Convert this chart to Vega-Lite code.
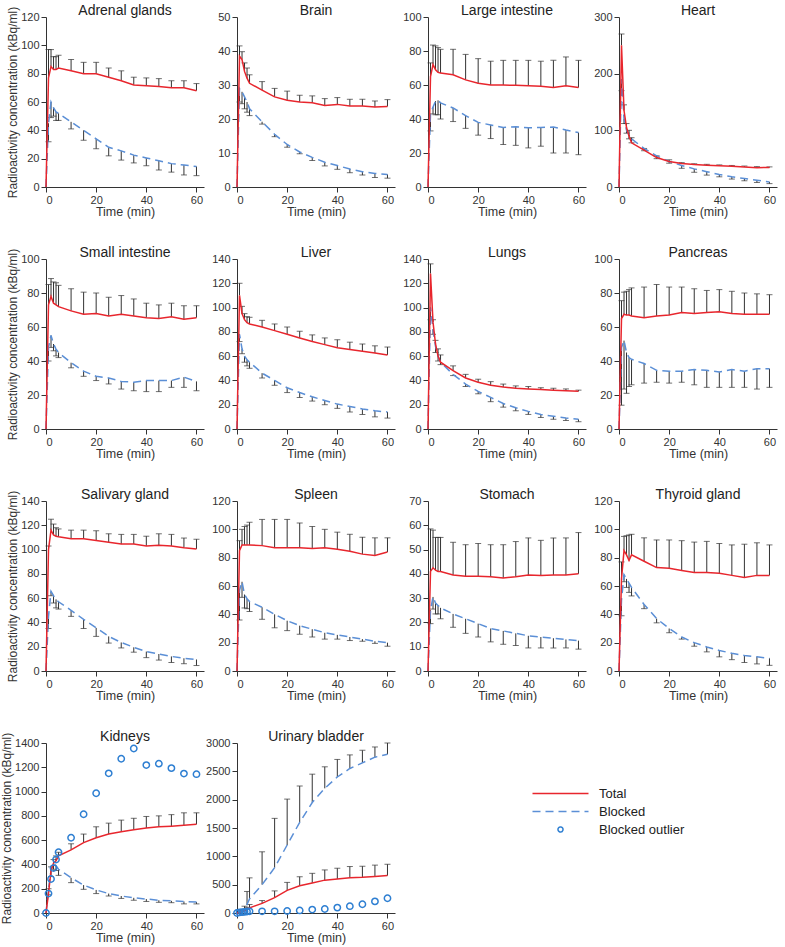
{
"$schema": "https://vega.github.io/schema/vega-lite/v6.json",
"padding": {"left": 0, "top": 4, "right": 2, "bottom": 2},
"data": {"values": [
{"o":"AG","t":0,"T":0,"B":0},
{"o":"AG","t":1,"T":77,"Te":97,"B":45,"Be":32},
{"o":"AG","t":2,"T":85,"Te":97,"B":60,"Be":49},
{"o":"AG","t":3,"T":83,"Te":92,"B":56,"Be":50},
{"o":"AG","t":4,"T":83,"Te":92,"B":53,"Be":47},
{"o":"AG","t":5,"T":84,"Te":93,"B":52,"Be":47},
{"o":"AG","t":10,"T":82,"Te":90,"B":46,"Be":41},
{"o":"AG","t":15,"T":80,"Te":88,"B":40,"Be":33},
{"o":"AG","t":20,"T":80,"Te":88,"B":34,"Be":27},
{"o":"AG","t":25,"T":77.5,"Te":84,"B":28,"Be":22},
{"o":"AG","t":30,"T":75,"Te":82,"B":25.5,"Be":19},
{"o":"AG","t":35,"T":72,"Te":77.5,"B":22.5,"Be":17},
{"o":"AG","t":40,"T":71.5,"Te":77,"B":20.5,"Be":15},
{"o":"AG","t":45,"T":71,"Te":76.5,"B":18.5,"Be":12},
{"o":"AG","t":50,"T":70,"Te":75,"B":16.5,"Be":10.5},
{"o":"AG","t":55,"T":70,"Te":75,"B":15.5,"Be":8.5},
{"o":"AG","t":60,"T":68,"Te":73,"B":14.5,"Be":8},
{"o":"BR","t":0,"T":0,"B":0},
{"o":"BR","t":1,"T":38.5,"Te":41.5,"B":29,"Be":25},
{"o":"BR","t":2,"T":37.5,"Te":39.8,"B":28,"Be":24.5},
{"o":"BR","t":3,"T":34,"Te":36.5,"B":26.5,"Be":23},
{"o":"BR","t":4,"T":32,"Te":35,"B":25,"Be":22},
{"o":"BR","t":5,"T":30.5,"Te":33,"B":23,"Be":21},
{"o":"BR","t":10,"T":28.5,"Te":31,"B":19.2,"Be":18.5},
{"o":"BR","t":15,"T":26.5,"Te":29,"B":15.5,"Be":14.8},
{"o":"BR","t":20,"T":25.5,"Te":28.2,"B":12.5,"Be":11.7},
{"o":"BR","t":25,"T":25,"Te":27,"B":10.3,"Be":9.8},
{"o":"BR","t":30,"T":24.8,"Te":26.8,"B":8.7,"Be":7.8},
{"o":"BR","t":35,"T":24,"Te":26,"B":7.3,"Be":6.2},
{"o":"BR","t":40,"T":24.3,"Te":26.3,"B":6.3,"Be":5.2},
{"o":"BR","t":45,"T":23.8,"Te":25.8,"B":5.3,"Be":4.2},
{"o":"BR","t":50,"T":23.8,"Te":25.8,"B":4.5,"Be":3.5},
{"o":"BR","t":55,"T":23.5,"Te":25.3,"B":4,"Be":2.8},
{"o":"BR","t":60,"T":23.7,"Te":25.7,"B":3.7,"Be":2.6},
{"o":"LI","t":0,"T":0,"B":0},
{"o":"LI","t":1,"T":65,"Te":73,"B":43,"Be":33},
{"o":"LI","t":2,"T":72,"Te":83.5,"B":47,"Be":43},
{"o":"LI","t":3,"T":69,"Te":83,"B":50.5,"Be":42.5},
{"o":"LI","t":4,"T":67.5,"Te":82,"B":51,"Be":42.5},
{"o":"LI","t":5,"T":67,"Te":81,"B":49.5,"Be":40},
{"o":"LI","t":10,"T":66,"Te":81,"B":46.5,"Be":38.5},
{"o":"LI","t":15,"T":63,"Te":78,"B":42,"Be":34.5},
{"o":"LI","t":20,"T":61,"Te":75.5,"B":38,"Be":30.5},
{"o":"LI","t":25,"T":60,"Te":74,"B":36.5,"Be":28.5},
{"o":"LI","t":30,"T":60,"Te":74.5,"B":35,"Be":25},
{"o":"LI","t":35,"T":59.8,"Te":74.5,"B":35.5,"Be":24.5},
{"o":"LI","t":40,"T":59.5,"Te":74.5,"B":34.8,"Be":23},
{"o":"LI","t":45,"T":59.3,"Te":74,"B":35,"Be":24},
{"o":"LI","t":50,"T":58.5,"Te":74.5,"B":35.3,"Be":20},
{"o":"LI","t":55,"T":59.5,"Te":76.5,"B":33.5,"Be":20},
{"o":"LI","t":60,"T":58.5,"Te":74.5,"B":32,"Be":19},
{"o":"HE","t":0,"T":0,"B":0},
{"o":"HE","t":1,"T":250,"Te":270,"B":190,"Be":170},
{"o":"HE","t":2,"T":135,"Te":145,"B":120,"Be":112},
{"o":"HE","t":3,"T":105,"Te":112,"B":100,"Be":95},
{"o":"HE","t":4,"T":90,"Te":100,"B":92,"Be":85},
{"o":"HE","t":5,"T":78,"Te":87,"B":85,"Be":78},
{"o":"HE","t":10,"T":65,"Te":68,"B":68,"Be":64},
{"o":"HE","t":15,"T":52,"Te":55,"B":55,"Be":50},
{"o":"HE","t":20,"T":45,"Te":48,"B":45,"Be":42},
{"o":"HE","t":25,"T":41.5,"Te":43,"B":38,"Be":33},
{"o":"HE","t":30,"T":39.5,"Te":41,"B":32,"Be":26},
{"o":"HE","t":35,"T":38.5,"Te":40,"B":27,"Be":21},
{"o":"HE","t":40,"T":37.5,"Te":39,"B":22,"Be":18},
{"o":"HE","t":45,"T":36.5,"Te":38,"B":18,"Be":14},
{"o":"HE","t":50,"T":35.5,"Te":37,"B":15,"Be":11},
{"o":"HE","t":55,"T":34,"Te":36,"B":12,"Be":8},
{"o":"HE","t":60,"T":34.5,"Te":35.5,"B":9,"Be":6},
{"o":"SI","t":0,"T":0,"B":0},
{"o":"SI","t":1,"T":73,"Te":85,"B":48,"Be":40},
{"o":"SI","t":2,"T":78,"Te":88.5,"B":55,"Be":48},
{"o":"SI","t":3,"T":74,"Te":86.5,"B":50,"Be":46},
{"o":"SI","t":4,"T":73,"Te":86,"B":47,"Be":43},
{"o":"SI","t":5,"T":72,"Te":84.5,"B":45,"Be":42},
{"o":"SI","t":10,"T":69.5,"Te":82.5,"B":39,"Be":36},
{"o":"SI","t":15,"T":67.5,"Te":80.5,"B":34,"Be":31},
{"o":"SI","t":20,"T":68,"Te":80,"B":31,"Be":28.5},
{"o":"SI","t":25,"T":66.5,"Te":77.5,"B":30,"Be":26.5},
{"o":"SI","t":30,"T":67.5,"Te":78.5,"B":28,"Be":23.5},
{"o":"SI","t":35,"T":66.5,"Te":76.5,"B":27.5,"Be":22.5},
{"o":"SI","t":40,"T":65.5,"Te":74,"B":28.5,"Be":22},
{"o":"SI","t":45,"T":65,"Te":73,"B":28.5,"Be":22},
{"o":"SI","t":50,"T":66,"Te":74,"B":28.5,"Be":24.5},
{"o":"SI","t":55,"T":64.5,"Te":72.5,"B":30.5,"Be":24.5},
{"o":"SI","t":60,"T":65.5,"Te":72.5,"B":28,"Be":22.5},
{"o":"LV","t":0,"T":0,"B":0},
{"o":"LV","t":1,"T":110,"Te":120,"B":78,"Be":72},
{"o":"LV","t":2,"T":95,"Te":101,"B":66,"Be":62},
{"o":"LV","t":3,"T":90,"Te":95,"B":60,"Be":55},
{"o":"LV","t":4,"T":87.5,"Te":92.5,"B":57,"Be":52},
{"o":"LV","t":5,"T":86.5,"Te":92,"B":55,"Be":50},
{"o":"LV","t":10,"T":84,"Te":89.5,"B":46,"Be":42},
{"o":"LV","t":15,"T":81,"Te":86.5,"B":40,"Be":36},
{"o":"LV","t":20,"T":78,"Te":84,"B":34,"Be":30},
{"o":"LV","t":25,"T":75,"Te":80.5,"B":30,"Be":26},
{"o":"LV","t":30,"T":72,"Te":77.5,"B":26.5,"Be":23},
{"o":"LV","t":35,"T":69.5,"Te":75,"B":23.5,"Be":20},
{"o":"LV","t":40,"T":67,"Te":73.5,"B":20.5,"Be":17},
{"o":"LV","t":45,"T":65.5,"Te":71.5,"B":18.5,"Be":14},
{"o":"LV","t":50,"T":64,"Te":70,"B":16.5,"Be":12},
{"o":"LV","t":55,"T":62.5,"Te":68.5,"B":15,"Be":10},
{"o":"LV","t":60,"T":61,"Te":67.5,"B":14,"Be":9},
{"o":"LU","t":0,"T":0,"B":0},
{"o":"LU","t":1,"T":128,"Te":136,"B":100,"Be":90},
{"o":"LU","t":2,"T":88,"Te":90,"B":82,"Be":78},
{"o":"LU","t":3,"T":70,"Te":73,"B":68,"Be":63},
{"o":"LU","t":4,"T":60,"Te":66,"B":60,"Be":56},
{"o":"LU","t":5,"T":55,"Te":61,"B":55,"Be":53},
{"o":"LU","t":10,"T":48,"Te":52,"B":45,"Be":44},
{"o":"LU","t":15,"T":42,"Te":45,"B":37,"Be":35},
{"o":"LU","t":20,"T":38.5,"Te":41,"B":31,"Be":29},
{"o":"LU","t":25,"T":36,"Te":39,"B":26,"Be":22.5},
{"o":"LU","t":30,"T":34.5,"Te":37,"B":21,"Be":18},
{"o":"LU","t":35,"T":33.5,"Te":35.5,"B":17.5,"Be":15},
{"o":"LU","t":40,"T":33,"Te":35,"B":14.5,"Be":12},
{"o":"LU","t":45,"T":32.5,"Te":34,"B":12,"Be":9.5},
{"o":"LU","t":50,"T":32,"Te":33.5,"B":10.5,"Be":8},
{"o":"LU","t":55,"T":31.5,"Te":33,"B":9,"Be":7},
{"o":"LU","t":60,"T":31,"Te":32,"B":8,"Be":6},
{"o":"PA","t":0,"T":0,"B":0},
{"o":"PA","t":1,"T":65,"Te":75.5,"B":48,"Be":14},
{"o":"PA","t":2,"T":67.5,"Te":80.5,"B":52,"Be":23.5},
{"o":"PA","t":3,"T":67,"Te":81,"B":45,"Be":21},
{"o":"PA","t":4,"T":67,"Te":82,"B":42,"Be":25},
{"o":"PA","t":5,"T":66.5,"Te":83,"B":41,"Be":26},
{"o":"PA","t":10,"T":65.5,"Te":83.5,"B":38.5,"Be":27},
{"o":"PA","t":15,"T":66.5,"Te":85,"B":34.5,"Be":27.5},
{"o":"PA","t":20,"T":67,"Te":83.5,"B":34,"Be":27},
{"o":"PA","t":25,"T":68.5,"Te":83.5,"B":34,"Be":27.5},
{"o":"PA","t":30,"T":68,"Te":82.5,"B":35,"Be":26},
{"o":"PA","t":35,"T":68.5,"Te":81.5,"B":34.5,"Be":24.5},
{"o":"PA","t":40,"T":69,"Te":82,"B":33.5,"Be":24.5},
{"o":"PA","t":45,"T":68,"Te":81,"B":35,"Be":24.5},
{"o":"PA","t":50,"T":67.5,"Te":80,"B":34,"Be":24.5},
{"o":"PA","t":55,"T":67.5,"Te":79.5,"B":35.5,"Be":23.5},
{"o":"PA","t":60,"T":67.5,"Te":79,"B":35.5,"Be":24.5},
{"o":"SG","t":0,"T":0,"B":0},
{"o":"SG","t":1,"T":100,"Te":103,"B":45,"Be":35},
{"o":"SG","t":2,"T":116,"Te":125,"B":65.5,"Be":62},
{"o":"SG","t":3,"T":112,"Te":121,"B":62,"Be":56},
{"o":"SG","t":4,"T":111,"Te":118,"B":59,"Be":52},
{"o":"SG","t":5,"T":110.5,"Te":117,"B":57,"Be":51},
{"o":"SG","t":10,"T":109,"Te":116,"B":50,"Be":45},
{"o":"SG","t":15,"T":109,"Te":116,"B":42.5,"Be":35},
{"o":"SG","t":20,"T":107.5,"Te":115.5,"B":35.5,"Be":28.5},
{"o":"SG","t":25,"T":106,"Te":113,"B":28.5,"Be":23},
{"o":"SG","t":30,"T":104.5,"Te":112.5,"B":23.5,"Be":19},
{"o":"SG","t":35,"T":104.5,"Te":112.5,"B":19.5,"Be":15.5},
{"o":"SG","t":40,"T":103,"Te":111,"B":16,"Be":11},
{"o":"SG","t":45,"T":103.5,"Te":113,"B":14,"Be":9},
{"o":"SG","t":50,"T":103,"Te":112.5,"B":12,"Be":7},
{"o":"SG","t":55,"T":101.5,"Te":109.5,"B":10.5,"Be":6},
{"o":"SG","t":60,"T":100.5,"Te":108.5,"B":9.5,"Be":4.5},
{"o":"SP","t":0,"T":0,"B":0},
{"o":"SP","t":1,"T":85,"Te":92,"B":57,"Be":36},
{"o":"SP","t":2,"T":89,"Te":100,"B":63,"Be":52},
{"o":"SP","t":3,"T":89,"Te":102,"B":54,"Be":44.5},
{"o":"SP","t":4,"T":89,"Te":103,"B":51,"Be":44},
{"o":"SP","t":5,"T":89,"Te":105,"B":49,"Be":42},
{"o":"SP","t":10,"T":88.5,"Te":107,"B":45,"Be":36.5},
{"o":"SP","t":15,"T":87,"Te":107,"B":40,"Be":30.5},
{"o":"SP","t":20,"T":87,"Te":107,"B":35.5,"Be":28.5},
{"o":"SP","t":25,"T":87,"Te":104.5,"B":32,"Be":26},
{"o":"SP","t":30,"T":86.5,"Te":102,"B":29.5,"Be":24},
{"o":"SP","t":35,"T":87,"Te":100,"B":27,"Be":22.5},
{"o":"SP","t":40,"T":86,"Te":98,"B":25.5,"Be":22.5},
{"o":"SP","t":45,"T":84.5,"Te":96.5,"B":24,"Be":21.5},
{"o":"SP","t":50,"T":82.5,"Te":94.5,"B":22.5,"Be":21},
{"o":"SP","t":55,"T":81.5,"Te":94,"B":21,"Be":19.5},
{"o":"SP","t":60,"T":84,"Te":94,"B":20,"Be":17.5},
{"o":"ST","t":0,"T":0,"B":0},
{"o":"ST","t":1,"T":41,"Te":58.5,"B":25,"Be":19.5},
{"o":"ST","t":2,"T":42.5,"Te":58,"B":30.5,"Be":25.5},
{"o":"ST","t":3,"T":41.5,"Te":55,"B":28,"Be":23.5},
{"o":"ST","t":4,"T":41,"Te":55,"B":27,"Be":23.5},
{"o":"ST","t":5,"T":41,"Te":55,"B":26,"Be":21.5},
{"o":"ST","t":10,"T":39.5,"Te":53,"B":23.5,"Be":18},
{"o":"ST","t":15,"T":39,"Te":52,"B":21.5,"Be":15.5},
{"o":"ST","t":20,"T":39,"Te":52.5,"B":19.5,"Be":14},
{"o":"ST","t":25,"T":38.8,"Te":52,"B":17.5,"Be":12},
{"o":"ST","t":30,"T":38.3,"Te":52,"B":16.5,"Be":11},
{"o":"ST","t":35,"T":38.8,"Te":53.3,"B":15.5,"Be":10.5},
{"o":"ST","t":40,"T":39.5,"Te":54.8,"B":14.5,"Be":9.5},
{"o":"ST","t":45,"T":39.3,"Te":53.8,"B":14,"Be":9.5},
{"o":"ST","t":50,"T":39.5,"Te":54.8,"B":13.5,"Be":9.5},
{"o":"ST","t":55,"T":39.5,"Te":54.8,"B":13,"Be":9.5},
{"o":"ST","t":60,"T":40,"Te":57,"B":12.5,"Be":9},
{"o":"TG","t":0,"T":0,"B":0},
{"o":"TG","t":1,"T":65,"Te":77,"B":50,"Be":39},
{"o":"TG","t":2,"T":85,"Te":95,"B":68,"Be":63},
{"o":"TG","t":3,"T":82,"Te":95.5,"B":65,"Be":59},
{"o":"TG","t":4,"T":78,"Te":96,"B":62,"Be":55.5},
{"o":"TG","t":5,"T":82,"Te":96.5,"B":59,"Be":53},
{"o":"TG","t":10,"T":77.5,"Te":94,"B":47,"Be":44},
{"o":"TG","t":15,"T":73,"Te":92.5,"B":37,"Be":34},
{"o":"TG","t":20,"T":72.5,"Te":92.5,"B":30,"Be":27},
{"o":"TG","t":25,"T":71,"Te":92,"B":24,"Be":22.5},
{"o":"TG","t":30,"T":69.5,"Te":91,"B":20,"Be":17.5},
{"o":"TG","t":35,"T":69.5,"Te":91.5,"B":17,"Be":13.5},
{"o":"TG","t":40,"T":69,"Te":90,"B":14.5,"Be":10},
{"o":"TG","t":45,"T":67.5,"Te":89,"B":12.5,"Be":8},
{"o":"TG","t":50,"T":66,"Te":89.5,"B":11,"Be":6},
{"o":"TG","t":55,"T":67.5,"Te":90.5,"B":10,"Be":5},
{"o":"TG","t":60,"T":67.5,"Te":89,"B":9,"Be":4},
{"o":"KI","t":0,"T":0,"B":0,"O":0},
{"o":"KI","t":1,"T":160,"Te":200,"B":200,"Be":150,"O":160},
{"o":"KI","t":2,"T":350,"Te":380,"B":350,"Be":300,"O":280},
{"o":"KI","t":3,"T":410,"Te":440,"B":410,"Be":360,"O":370},
{"o":"KI","t":4,"T":430,"Te":470,"B":390,"Be":350,"O":440},
{"o":"KI","t":5,"T":470,"Te":500,"B":360,"Be":310,"O":500},
{"o":"KI","t":10,"T":520,"Te":570,"B":290,"Be":250,"O":620},
{"o":"KI","t":15,"T":580,"Te":650,"B":230,"Be":195,"O":813},
{"o":"KI","t":20,"T":620,"Te":710,"B":190,"Be":160,"O":986},
{"o":"KI","t":25,"T":650,"Te":740,"B":160,"Be":140,"O":1150},
{"o":"KI","t":30,"T":670,"Te":765,"B":140,"Be":120,"O":1270},
{"o":"KI","t":35,"T":685,"Te":780,"B":125,"Be":105,"O":1355},
{"o":"KI","t":40,"T":700,"Te":795,"B":115,"Be":95,"O":1218},
{"o":"KI","t":45,"T":710,"Te":800,"B":105,"Be":88,"O":1230},
{"o":"KI","t":50,"T":715,"Te":810,"B":100,"Be":85,"O":1193},
{"o":"KI","t":55,"T":722,"Te":825,"B":95,"Be":75,"O":1148},
{"o":"KI","t":60,"T":730,"Te":825,"B":90,"Be":75,"O":1143},
{"o":"UB","t":0,"T":0,"B":0,"O":0},
{"o":"UB","t":1,"T":10,"Te":20,"B":20,"Be":40,"O":10},
{"o":"UB","t":2,"T":20,"Te":40,"B":40,"Be":60,"O":15},
{"o":"UB","t":3,"T":40,"Te":60,"B":80,"Be":120,"O":20},
{"o":"UB","t":4,"T":60,"Te":100,"B":150,"Be":380,"O":25},
{"o":"UB","t":5,"T":90,"Te":150,"B":250,"Be":620,"O":30},
{"o":"UB","t":10,"T":170,"Te":220,"B":500,"Be":1080,"O":30},
{"o":"UB","t":15,"T":270,"Te":390,"B":800,"Be":1670,"O":30},
{"o":"UB","t":20,"T":400,"Te":540,"B":1200,"Be":2010,"O":35},
{"o":"UB","t":25,"T":480,"Te":640,"B":1600,"Be":2240,"O":45},
{"o":"UB","t":30,"T":530,"Te":700,"B":1950,"Be":2450,"O":60},
{"o":"UB","t":35,"T":580,"Te":760,"B":2200,"Be":2580,"O":70},
{"o":"UB","t":40,"T":600,"Te":790,"B":2400,"Be":2710,"O":95},
{"o":"UB","t":45,"T":620,"Te":820,"B":2550,"Be":2790,"O":120},
{"o":"UB","t":50,"T":630,"Te":825,"B":2650,"Be":2870,"O":155},
{"o":"UB","t":55,"T":645,"Te":845,"B":2750,"Be":2930,"O":205},
{"o":"UB","t":60,"T":660,"Te":860,"B":2800,"Be":3000,"O":260}
]},
"columns": 4,
"spacing": {"row": 72, "column": 33},
"bounds": "flush",
"resolve": {"scale": {"color": "shared"}},
"concat": [
{"title":{"text":"Adrenal glands","offset":-12},"transform":[{"filter":"datum.o=='AG'"}],
"encoding":{"x":{"field":"t","type":"quantitative","scale":{"domain":[0,63]},"axis":{"values":[0,20,40,60],"title":"Time (min)"}}},
"layer":[
{"transform":[{"filter":"isValid(datum.Te)"}],"mark":{"type":"rule","color":"#333"},"encoding":{"y":{"field":"T","type":"quantitative","title":"Radioactivity concentration (kBq/ml)","scale":{"domain":[0,120]},"axis":{"values":[0,20,40,60,80,100,120],"tickCount":50,"format":"d"}},"y2":{"field":"Te"}}},
{"transform":[{"filter":"isValid(datum.Te)"}],"mark":{"type":"tick","orient":"horizontal","color":"#333","size":6,"thickness":1},"encoding":{"y":{"field":"Te","type":"quantitative","title":"Radioactivity concentration (kBq/ml)"}}},
{"transform":[{"filter":"isValid(datum.Be)"}],"mark":{"type":"rule","color":"#333"},"encoding":{"y":{"field":"B","type":"quantitative","title":"Radioactivity concentration (kBq/ml)"},"y2":{"field":"Be"}}},
{"transform":[{"filter":"isValid(datum.Be)"}],"mark":{"type":"tick","orient":"horizontal","color":"#333","size":6,"thickness":1},"encoding":{"y":{"field":"Be","type":"quantitative","title":"Radioactivity concentration (kBq/ml)"}}},
{"mark":{"type":"line","strokeWidth":1.5,"strokeDash":[8,5]},"encoding":{"y":{"field":"B","type":"quantitative","title":"Radioactivity concentration (kBq/ml)"},"color":{"datum":"Blocked","scale":{"domain":["Total","Blocked","Blocked outlier"],"range":["#e8262d","#5b8fd6","#2e7fd2"]}}}},
{"mark":{"type":"line","strokeWidth":1.5},"encoding":{"y":{"field":"T","type":"quantitative","title":"Radioactivity concentration (kBq/ml)"},"color":{"datum":"Total","scale":{"domain":["Total","Blocked","Blocked outlier"],"range":["#e8262d","#5b8fd6","#2e7fd2"]},"legend":{"orient":"none","legendX":508,"legendY":770,"title":null,"labelFontSize":13,"labelColor":"#222","symbolSize":100,"labelOffset":32,"rowPadding":4,"symbolStrokeWidth":1.5,"encode":{"symbols":{"update":{"shape":{"signal":"datum.value === 'Blocked outlier' ? 'circle' : 'M-5.6,0H5.6'"},"size":{"signal":"datum.value === 'Blocked outlier' ? 25 : 100"},"strokeDash":{"signal":"datum.value === 'Blocked' ? [8,5] : [1,0]"},"fill":{"value":"transparent"},"strokeWidth":{"value":1.5}}}}}}}}
]},
{"title":"Brain","transform":[{"filter":"datum.o=='BR'"}],
"encoding":{"x":{"field":"t","type":"quantitative","scale":{"domain":[0,63]},"axis":{"values":[0,20,40,60],"title":"Time (min)"}}},
"layer":[
{"transform":[{"filter":"isValid(datum.Te)"}],"mark":{"type":"rule","color":"#333"},"encoding":{"y":{"field":"T","type":"quantitative","title":null,"scale":{"domain":[0,50]},"axis":{"values":[0,10,20,30,40,50],"tickCount":50,"format":"d"}},"y2":{"field":"Te"}}},
{"transform":[{"filter":"isValid(datum.Te)"}],"mark":{"type":"tick","orient":"horizontal","color":"#333","size":6,"thickness":1},"encoding":{"y":{"field":"Te","type":"quantitative","title":null}}},
{"transform":[{"filter":"isValid(datum.Be)"}],"mark":{"type":"rule","color":"#333"},"encoding":{"y":{"field":"B","type":"quantitative","title":null},"y2":{"field":"Be"}}},
{"transform":[{"filter":"isValid(datum.Be)"}],"mark":{"type":"tick","orient":"horizontal","color":"#333","size":6,"thickness":1},"encoding":{"y":{"field":"Be","type":"quantitative","title":null}}},
{"mark":{"type":"line","strokeWidth":1.5,"strokeDash":[8,5]},"encoding":{"y":{"field":"B","type":"quantitative","title":null},"color":{"datum":"Blocked","scale":{"domain":["Total","Blocked","Blocked outlier"],"range":["#e8262d","#5b8fd6","#2e7fd2"]}}}},
{"mark":{"type":"line","strokeWidth":1.5},"encoding":{"y":{"field":"T","type":"quantitative","title":null},"color":{"datum":"Total","scale":{"domain":["Total","Blocked","Blocked outlier"],"range":["#e8262d","#5b8fd6","#2e7fd2"]}}}}
]},
{"title":"Large intestine","transform":[{"filter":"datum.o=='LI'"}],
"encoding":{"x":{"field":"t","type":"quantitative","scale":{"domain":[0,63]},"axis":{"values":[0,20,40,60],"title":"Time (min)"}}},
"layer":[
{"transform":[{"filter":"isValid(datum.Te)"}],"mark":{"type":"rule","color":"#333"},"encoding":{"y":{"field":"T","type":"quantitative","title":null,"scale":{"domain":[0,100]},"axis":{"values":[0,20,40,60,80,100],"tickCount":50,"format":"d"}},"y2":{"field":"Te"}}},
{"transform":[{"filter":"isValid(datum.Te)"}],"mark":{"type":"tick","orient":"horizontal","color":"#333","size":6,"thickness":1},"encoding":{"y":{"field":"Te","type":"quantitative","title":null}}},
{"transform":[{"filter":"isValid(datum.Be)"}],"mark":{"type":"rule","color":"#333"},"encoding":{"y":{"field":"B","type":"quantitative","title":null},"y2":{"field":"Be"}}},
{"transform":[{"filter":"isValid(datum.Be)"}],"mark":{"type":"tick","orient":"horizontal","color":"#333","size":6,"thickness":1},"encoding":{"y":{"field":"Be","type":"quantitative","title":null}}},
{"mark":{"type":"line","strokeWidth":1.5,"strokeDash":[8,5]},"encoding":{"y":{"field":"B","type":"quantitative","title":null},"color":{"datum":"Blocked","scale":{"domain":["Total","Blocked","Blocked outlier"],"range":["#e8262d","#5b8fd6","#2e7fd2"]}}}},
{"mark":{"type":"line","strokeWidth":1.5},"encoding":{"y":{"field":"T","type":"quantitative","title":null},"color":{"datum":"Total","scale":{"domain":["Total","Blocked","Blocked outlier"],"range":["#e8262d","#5b8fd6","#2e7fd2"]}}}}
]},
{"title":"Heart","transform":[{"filter":"datum.o=='HE'"}],
"encoding":{"x":{"field":"t","type":"quantitative","scale":{"domain":[0,63]},"axis":{"values":[0,20,40,60],"title":"Time (min)"}}},
"layer":[
{"transform":[{"filter":"isValid(datum.Te)"}],"mark":{"type":"rule","color":"#333"},"encoding":{"y":{"field":"T","type":"quantitative","title":null,"scale":{"domain":[0,300]},"axis":{"values":[0,100,200,300],"tickCount":50,"format":"d"}},"y2":{"field":"Te"}}},
{"transform":[{"filter":"isValid(datum.Te)"}],"mark":{"type":"tick","orient":"horizontal","color":"#333","size":6,"thickness":1},"encoding":{"y":{"field":"Te","type":"quantitative","title":null}}},
{"transform":[{"filter":"isValid(datum.Be)"}],"mark":{"type":"rule","color":"#333"},"encoding":{"y":{"field":"B","type":"quantitative","title":null},"y2":{"field":"Be"}}},
{"transform":[{"filter":"isValid(datum.Be)"}],"mark":{"type":"tick","orient":"horizontal","color":"#333","size":6,"thickness":1},"encoding":{"y":{"field":"Be","type":"quantitative","title":null}}},
{"mark":{"type":"line","strokeWidth":1.5,"strokeDash":[8,5]},"encoding":{"y":{"field":"B","type":"quantitative","title":null},"color":{"datum":"Blocked","scale":{"domain":["Total","Blocked","Blocked outlier"],"range":["#e8262d","#5b8fd6","#2e7fd2"]}}}},
{"mark":{"type":"line","strokeWidth":1.5},"encoding":{"y":{"field":"T","type":"quantitative","title":null},"color":{"datum":"Total","scale":{"domain":["Total","Blocked","Blocked outlier"],"range":["#e8262d","#5b8fd6","#2e7fd2"]}}}}
]},
{"title":{"text":"Small intestine","offset":-12},"transform":[{"filter":"datum.o=='SI'"}],
"encoding":{"x":{"field":"t","type":"quantitative","scale":{"domain":[0,63]},"axis":{"values":[0,20,40,60],"title":"Time (min)"}}},
"layer":[
{"transform":[{"filter":"isValid(datum.Te)"}],"mark":{"type":"rule","color":"#333"},"encoding":{"y":{"field":"T","type":"quantitative","title":"Radioactivity concentration (kBq/ml)","scale":{"domain":[0,100]},"axis":{"values":[0,20,40,60,80,100],"tickCount":50,"format":"d"}},"y2":{"field":"Te"}}},
{"transform":[{"filter":"isValid(datum.Te)"}],"mark":{"type":"tick","orient":"horizontal","color":"#333","size":6,"thickness":1},"encoding":{"y":{"field":"Te","type":"quantitative","title":"Radioactivity concentration (kBq/ml)"}}},
{"transform":[{"filter":"isValid(datum.Be)"}],"mark":{"type":"rule","color":"#333"},"encoding":{"y":{"field":"B","type":"quantitative","title":"Radioactivity concentration (kBq/ml)"},"y2":{"field":"Be"}}},
{"transform":[{"filter":"isValid(datum.Be)"}],"mark":{"type":"tick","orient":"horizontal","color":"#333","size":6,"thickness":1},"encoding":{"y":{"field":"Be","type":"quantitative","title":"Radioactivity concentration (kBq/ml)"}}},
{"mark":{"type":"line","strokeWidth":1.5,"strokeDash":[8,5]},"encoding":{"y":{"field":"B","type":"quantitative","title":"Radioactivity concentration (kBq/ml)"},"color":{"datum":"Blocked","scale":{"domain":["Total","Blocked","Blocked outlier"],"range":["#e8262d","#5b8fd6","#2e7fd2"]}}}},
{"mark":{"type":"line","strokeWidth":1.5},"encoding":{"y":{"field":"T","type":"quantitative","title":"Radioactivity concentration (kBq/ml)"},"color":{"datum":"Total","scale":{"domain":["Total","Blocked","Blocked outlier"],"range":["#e8262d","#5b8fd6","#2e7fd2"]}}}}
]},
{"title":"Liver","transform":[{"filter":"datum.o=='LV'"}],
"encoding":{"x":{"field":"t","type":"quantitative","scale":{"domain":[0,63]},"axis":{"values":[0,20,40,60],"title":"Time (min)"}}},
"layer":[
{"transform":[{"filter":"isValid(datum.Te)"}],"mark":{"type":"rule","color":"#333"},"encoding":{"y":{"field":"T","type":"quantitative","title":null,"scale":{"domain":[0,140]},"axis":{"values":[0,20,40,60,80,100,120,140],"tickCount":50,"format":"d"}},"y2":{"field":"Te"}}},
{"transform":[{"filter":"isValid(datum.Te)"}],"mark":{"type":"tick","orient":"horizontal","color":"#333","size":6,"thickness":1},"encoding":{"y":{"field":"Te","type":"quantitative","title":null}}},
{"transform":[{"filter":"isValid(datum.Be)"}],"mark":{"type":"rule","color":"#333"},"encoding":{"y":{"field":"B","type":"quantitative","title":null},"y2":{"field":"Be"}}},
{"transform":[{"filter":"isValid(datum.Be)"}],"mark":{"type":"tick","orient":"horizontal","color":"#333","size":6,"thickness":1},"encoding":{"y":{"field":"Be","type":"quantitative","title":null}}},
{"mark":{"type":"line","strokeWidth":1.5,"strokeDash":[8,5]},"encoding":{"y":{"field":"B","type":"quantitative","title":null},"color":{"datum":"Blocked","scale":{"domain":["Total","Blocked","Blocked outlier"],"range":["#e8262d","#5b8fd6","#2e7fd2"]}}}},
{"mark":{"type":"line","strokeWidth":1.5},"encoding":{"y":{"field":"T","type":"quantitative","title":null},"color":{"datum":"Total","scale":{"domain":["Total","Blocked","Blocked outlier"],"range":["#e8262d","#5b8fd6","#2e7fd2"]}}}}
]},
{"title":"Lungs","transform":[{"filter":"datum.o=='LU'"}],
"encoding":{"x":{"field":"t","type":"quantitative","scale":{"domain":[0,63]},"axis":{"values":[0,20,40,60],"title":"Time (min)"}}},
"layer":[
{"transform":[{"filter":"isValid(datum.Te)"}],"mark":{"type":"rule","color":"#333"},"encoding":{"y":{"field":"T","type":"quantitative","title":null,"scale":{"domain":[0,140]},"axis":{"values":[0,20,40,60,80,100,120,140],"tickCount":50,"format":"d"}},"y2":{"field":"Te"}}},
{"transform":[{"filter":"isValid(datum.Te)"}],"mark":{"type":"tick","orient":"horizontal","color":"#333","size":6,"thickness":1},"encoding":{"y":{"field":"Te","type":"quantitative","title":null}}},
{"transform":[{"filter":"isValid(datum.Be)"}],"mark":{"type":"rule","color":"#333"},"encoding":{"y":{"field":"B","type":"quantitative","title":null},"y2":{"field":"Be"}}},
{"transform":[{"filter":"isValid(datum.Be)"}],"mark":{"type":"tick","orient":"horizontal","color":"#333","size":6,"thickness":1},"encoding":{"y":{"field":"Be","type":"quantitative","title":null}}},
{"mark":{"type":"line","strokeWidth":1.5,"strokeDash":[8,5]},"encoding":{"y":{"field":"B","type":"quantitative","title":null},"color":{"datum":"Blocked","scale":{"domain":["Total","Blocked","Blocked outlier"],"range":["#e8262d","#5b8fd6","#2e7fd2"]}}}},
{"mark":{"type":"line","strokeWidth":1.5},"encoding":{"y":{"field":"T","type":"quantitative","title":null},"color":{"datum":"Total","scale":{"domain":["Total","Blocked","Blocked outlier"],"range":["#e8262d","#5b8fd6","#2e7fd2"]}}}}
]},
{"title":"Pancreas","transform":[{"filter":"datum.o=='PA'"}],
"encoding":{"x":{"field":"t","type":"quantitative","scale":{"domain":[0,63]},"axis":{"values":[0,20,40,60],"title":"Time (min)"}}},
"layer":[
{"transform":[{"filter":"isValid(datum.Te)"}],"mark":{"type":"rule","color":"#333"},"encoding":{"y":{"field":"T","type":"quantitative","title":null,"scale":{"domain":[0,100]},"axis":{"values":[0,20,40,60,80,100],"tickCount":50,"format":"d"}},"y2":{"field":"Te"}}},
{"transform":[{"filter":"isValid(datum.Te)"}],"mark":{"type":"tick","orient":"horizontal","color":"#333","size":6,"thickness":1},"encoding":{"y":{"field":"Te","type":"quantitative","title":null}}},
{"transform":[{"filter":"isValid(datum.Be)"}],"mark":{"type":"rule","color":"#333"},"encoding":{"y":{"field":"B","type":"quantitative","title":null},"y2":{"field":"Be"}}},
{"transform":[{"filter":"isValid(datum.Be)"}],"mark":{"type":"tick","orient":"horizontal","color":"#333","size":6,"thickness":1},"encoding":{"y":{"field":"Be","type":"quantitative","title":null}}},
{"mark":{"type":"line","strokeWidth":1.5,"strokeDash":[8,5]},"encoding":{"y":{"field":"B","type":"quantitative","title":null},"color":{"datum":"Blocked","scale":{"domain":["Total","Blocked","Blocked outlier"],"range":["#e8262d","#5b8fd6","#2e7fd2"]}}}},
{"mark":{"type":"line","strokeWidth":1.5},"encoding":{"y":{"field":"T","type":"quantitative","title":null},"color":{"datum":"Total","scale":{"domain":["Total","Blocked","Blocked outlier"],"range":["#e8262d","#5b8fd6","#2e7fd2"]}}}}
]},
{"title":{"text":"Salivary gland","offset":-12},"transform":[{"filter":"datum.o=='SG'"}],
"encoding":{"x":{"field":"t","type":"quantitative","scale":{"domain":[0,63]},"axis":{"values":[0,20,40,60],"title":"Time (min)"}}},
"layer":[
{"transform":[{"filter":"isValid(datum.Te)"}],"mark":{"type":"rule","color":"#333"},"encoding":{"y":{"field":"T","type":"quantitative","title":"Radioactivity concentration (kBq/ml)","scale":{"domain":[0,140]},"axis":{"values":[0,20,40,60,80,100,120,140],"tickCount":50,"format":"d"}},"y2":{"field":"Te"}}},
{"transform":[{"filter":"isValid(datum.Te)"}],"mark":{"type":"tick","orient":"horizontal","color":"#333","size":6,"thickness":1},"encoding":{"y":{"field":"Te","type":"quantitative","title":"Radioactivity concentration (kBq/ml)"}}},
{"transform":[{"filter":"isValid(datum.Be)"}],"mark":{"type":"rule","color":"#333"},"encoding":{"y":{"field":"B","type":"quantitative","title":"Radioactivity concentration (kBq/ml)"},"y2":{"field":"Be"}}},
{"transform":[{"filter":"isValid(datum.Be)"}],"mark":{"type":"tick","orient":"horizontal","color":"#333","size":6,"thickness":1},"encoding":{"y":{"field":"Be","type":"quantitative","title":"Radioactivity concentration (kBq/ml)"}}},
{"mark":{"type":"line","strokeWidth":1.5,"strokeDash":[8,5]},"encoding":{"y":{"field":"B","type":"quantitative","title":"Radioactivity concentration (kBq/ml)"},"color":{"datum":"Blocked","scale":{"domain":["Total","Blocked","Blocked outlier"],"range":["#e8262d","#5b8fd6","#2e7fd2"]}}}},
{"mark":{"type":"line","strokeWidth":1.5},"encoding":{"y":{"field":"T","type":"quantitative","title":"Radioactivity concentration (kBq/ml)"},"color":{"datum":"Total","scale":{"domain":["Total","Blocked","Blocked outlier"],"range":["#e8262d","#5b8fd6","#2e7fd2"]}}}}
]},
{"title":"Spleen","transform":[{"filter":"datum.o=='SP'"}],
"encoding":{"x":{"field":"t","type":"quantitative","scale":{"domain":[0,63]},"axis":{"values":[0,20,40,60],"title":"Time (min)"}}},
"layer":[
{"transform":[{"filter":"isValid(datum.Te)"}],"mark":{"type":"rule","color":"#333"},"encoding":{"y":{"field":"T","type":"quantitative","title":null,"scale":{"domain":[0,120]},"axis":{"values":[0,20,40,60,80,100,120],"tickCount":50,"format":"d"}},"y2":{"field":"Te"}}},
{"transform":[{"filter":"isValid(datum.Te)"}],"mark":{"type":"tick","orient":"horizontal","color":"#333","size":6,"thickness":1},"encoding":{"y":{"field":"Te","type":"quantitative","title":null}}},
{"transform":[{"filter":"isValid(datum.Be)"}],"mark":{"type":"rule","color":"#333"},"encoding":{"y":{"field":"B","type":"quantitative","title":null},"y2":{"field":"Be"}}},
{"transform":[{"filter":"isValid(datum.Be)"}],"mark":{"type":"tick","orient":"horizontal","color":"#333","size":6,"thickness":1},"encoding":{"y":{"field":"Be","type":"quantitative","title":null}}},
{"mark":{"type":"line","strokeWidth":1.5,"strokeDash":[8,5]},"encoding":{"y":{"field":"B","type":"quantitative","title":null},"color":{"datum":"Blocked","scale":{"domain":["Total","Blocked","Blocked outlier"],"range":["#e8262d","#5b8fd6","#2e7fd2"]}}}},
{"mark":{"type":"line","strokeWidth":1.5},"encoding":{"y":{"field":"T","type":"quantitative","title":null},"color":{"datum":"Total","scale":{"domain":["Total","Blocked","Blocked outlier"],"range":["#e8262d","#5b8fd6","#2e7fd2"]}}}}
]},
{"title":"Stomach","transform":[{"filter":"datum.o=='ST'"}],
"encoding":{"x":{"field":"t","type":"quantitative","scale":{"domain":[0,63]},"axis":{"values":[0,20,40,60],"title":"Time (min)"}}},
"layer":[
{"transform":[{"filter":"isValid(datum.Te)"}],"mark":{"type":"rule","color":"#333"},"encoding":{"y":{"field":"T","type":"quantitative","title":null,"scale":{"domain":[0,70]},"axis":{"values":[0,10,20,30,40,50,60,70],"tickCount":50,"format":"d"}},"y2":{"field":"Te"}}},
{"transform":[{"filter":"isValid(datum.Te)"}],"mark":{"type":"tick","orient":"horizontal","color":"#333","size":6,"thickness":1},"encoding":{"y":{"field":"Te","type":"quantitative","title":null}}},
{"transform":[{"filter":"isValid(datum.Be)"}],"mark":{"type":"rule","color":"#333"},"encoding":{"y":{"field":"B","type":"quantitative","title":null},"y2":{"field":"Be"}}},
{"transform":[{"filter":"isValid(datum.Be)"}],"mark":{"type":"tick","orient":"horizontal","color":"#333","size":6,"thickness":1},"encoding":{"y":{"field":"Be","type":"quantitative","title":null}}},
{"mark":{"type":"line","strokeWidth":1.5,"strokeDash":[8,5]},"encoding":{"y":{"field":"B","type":"quantitative","title":null},"color":{"datum":"Blocked","scale":{"domain":["Total","Blocked","Blocked outlier"],"range":["#e8262d","#5b8fd6","#2e7fd2"]}}}},
{"mark":{"type":"line","strokeWidth":1.5},"encoding":{"y":{"field":"T","type":"quantitative","title":null},"color":{"datum":"Total","scale":{"domain":["Total","Blocked","Blocked outlier"],"range":["#e8262d","#5b8fd6","#2e7fd2"]}}}}
]},
{"title":"Thyroid gland","transform":[{"filter":"datum.o=='TG'"}],
"encoding":{"x":{"field":"t","type":"quantitative","scale":{"domain":[0,63]},"axis":{"values":[0,20,40,60],"title":"Time (min)"}}},
"layer":[
{"transform":[{"filter":"isValid(datum.Te)"}],"mark":{"type":"rule","color":"#333"},"encoding":{"y":{"field":"T","type":"quantitative","title":null,"scale":{"domain":[0,120]},"axis":{"values":[0,20,40,60,80,100,120],"tickCount":50,"format":"d"}},"y2":{"field":"Te"}}},
{"transform":[{"filter":"isValid(datum.Te)"}],"mark":{"type":"tick","orient":"horizontal","color":"#333","size":6,"thickness":1},"encoding":{"y":{"field":"Te","type":"quantitative","title":null}}},
{"transform":[{"filter":"isValid(datum.Be)"}],"mark":{"type":"rule","color":"#333"},"encoding":{"y":{"field":"B","type":"quantitative","title":null},"y2":{"field":"Be"}}},
{"transform":[{"filter":"isValid(datum.Be)"}],"mark":{"type":"tick","orient":"horizontal","color":"#333","size":6,"thickness":1},"encoding":{"y":{"field":"Be","type":"quantitative","title":null}}},
{"mark":{"type":"line","strokeWidth":1.5,"strokeDash":[8,5]},"encoding":{"y":{"field":"B","type":"quantitative","title":null},"color":{"datum":"Blocked","scale":{"domain":["Total","Blocked","Blocked outlier"],"range":["#e8262d","#5b8fd6","#2e7fd2"]}}}},
{"mark":{"type":"line","strokeWidth":1.5},"encoding":{"y":{"field":"T","type":"quantitative","title":null},"color":{"datum":"Total","scale":{"domain":["Total","Blocked","Blocked outlier"],"range":["#e8262d","#5b8fd6","#2e7fd2"]}}}}
]},
{"title":{"text":"Kidneys","offset":-12},"transform":[{"filter":"datum.o=='KI'"}],
"encoding":{"x":{"field":"t","type":"quantitative","scale":{"domain":[0,63]},"axis":{"values":[0,20,40,60],"title":"Time (min)"}}},
"layer":[
{"transform":[{"filter":"isValid(datum.Te)"}],"mark":{"type":"rule","color":"#333"},"encoding":{"y":{"field":"T","type":"quantitative","title":"Radioactivity concentration (kBq/ml)","scale":{"domain":[0,1400]},"axis":{"values":[0,200,400,600,800,1000,1200,1400],"tickCount":50,"format":"d"}},"y2":{"field":"Te"}}},
{"transform":[{"filter":"isValid(datum.Te)"}],"mark":{"type":"tick","orient":"horizontal","color":"#333","size":6,"thickness":1},"encoding":{"y":{"field":"Te","type":"quantitative","title":"Radioactivity concentration (kBq/ml)"}}},
{"transform":[{"filter":"isValid(datum.Be)"}],"mark":{"type":"rule","color":"#333"},"encoding":{"y":{"field":"B","type":"quantitative","title":"Radioactivity concentration (kBq/ml)"},"y2":{"field":"Be"}}},
{"transform":[{"filter":"isValid(datum.Be)"}],"mark":{"type":"tick","orient":"horizontal","color":"#333","size":6,"thickness":1},"encoding":{"y":{"field":"Be","type":"quantitative","title":"Radioactivity concentration (kBq/ml)"}}},
{"mark":{"type":"line","strokeWidth":1.5,"strokeDash":[8,5]},"encoding":{"y":{"field":"B","type":"quantitative","title":"Radioactivity concentration (kBq/ml)"},"color":{"datum":"Blocked","scale":{"domain":["Total","Blocked","Blocked outlier"],"range":["#e8262d","#5b8fd6","#2e7fd2"]}}}},
{"mark":{"type":"line","strokeWidth":1.5},"encoding":{"y":{"field":"T","type":"quantitative","title":"Radioactivity concentration (kBq/ml)"},"color":{"datum":"Total","scale":{"domain":["Total","Blocked","Blocked outlier"],"range":["#e8262d","#5b8fd6","#2e7fd2"]}}}},
{"transform":[{"filter":"isValid(datum.O)"}],"mark":{"type":"point","filled":false,"size":40,"strokeWidth":1.5,"opacity":1},"encoding":{"y":{"field":"O","type":"quantitative","title":"Radioactivity concentration (kBq/ml)"},"color":{"datum":"Blocked outlier","scale":{"domain":["Total","Blocked","Blocked outlier"],"range":["#e8262d","#5b8fd6","#2e7fd2"]}}}}
]},
{"title":"Urinary bladder","transform":[{"filter":"datum.o=='UB'"}],
"encoding":{"x":{"field":"t","type":"quantitative","scale":{"domain":[0,63]},"axis":{"values":[0,20,40,60],"title":"Time (min)"}}},
"layer":[
{"transform":[{"filter":"isValid(datum.Te)"}],"mark":{"type":"rule","color":"#333"},"encoding":{"y":{"field":"T","type":"quantitative","title":null,"scale":{"domain":[0,3000]},"axis":{"values":[0,500,1000,1500,2000,2500,3000],"tickCount":50,"format":"d"}},"y2":{"field":"Te"}}},
{"transform":[{"filter":"isValid(datum.Te)"}],"mark":{"type":"tick","orient":"horizontal","color":"#333","size":6,"thickness":1},"encoding":{"y":{"field":"Te","type":"quantitative","title":null}}},
{"transform":[{"filter":"isValid(datum.Be)"}],"mark":{"type":"rule","color":"#333"},"encoding":{"y":{"field":"B","type":"quantitative","title":null},"y2":{"field":"Be"}}},
{"transform":[{"filter":"isValid(datum.Be)"}],"mark":{"type":"tick","orient":"horizontal","color":"#333","size":6,"thickness":1},"encoding":{"y":{"field":"Be","type":"quantitative","title":null}}},
{"mark":{"type":"line","strokeWidth":1.5,"strokeDash":[8,5]},"encoding":{"y":{"field":"B","type":"quantitative","title":null},"color":{"datum":"Blocked","scale":{"domain":["Total","Blocked","Blocked outlier"],"range":["#e8262d","#5b8fd6","#2e7fd2"]}}}},
{"mark":{"type":"line","strokeWidth":1.5},"encoding":{"y":{"field":"T","type":"quantitative","title":null},"color":{"datum":"Total","scale":{"domain":["Total","Blocked","Blocked outlier"],"range":["#e8262d","#5b8fd6","#2e7fd2"]}}}},
{"transform":[{"filter":"isValid(datum.O)"}],"mark":{"type":"point","filled":false,"size":40,"strokeWidth":1.5,"opacity":1},"encoding":{"y":{"field":"O","type":"quantitative","title":null},"color":{"datum":"Blocked outlier","scale":{"domain":["Total","Blocked","Blocked outlier"],"range":["#e8262d","#5b8fd6","#2e7fd2"]}}}}
]}
],
"config": {
"font": "Liberation Sans",
"view": {"stroke": null, "continuousWidth": 158, "continuousHeight": 170},
"axis": {"grid": false, "domainColor": "#333", "tickColor": "#333", "labelColor": "#333", "titleColor": "#333", "labelFontSize": 11, "titleFontWeight": "normal", "tickSize": 5, "labelOverlap": false},
"axisY": {"labelPadding": 2, "titlePadding": 1, "titleFontSize": 12, "tickCount": 50},
"axisX": {"labelPadding": 2, "titlePadding": 0, "titleFontSize": 12.5},
"title": {"fontSize": 14, "fontWeight": "normal", "color": "#222", "offset": -7, "anchor": "middle", "frame": "group"}
}
}
